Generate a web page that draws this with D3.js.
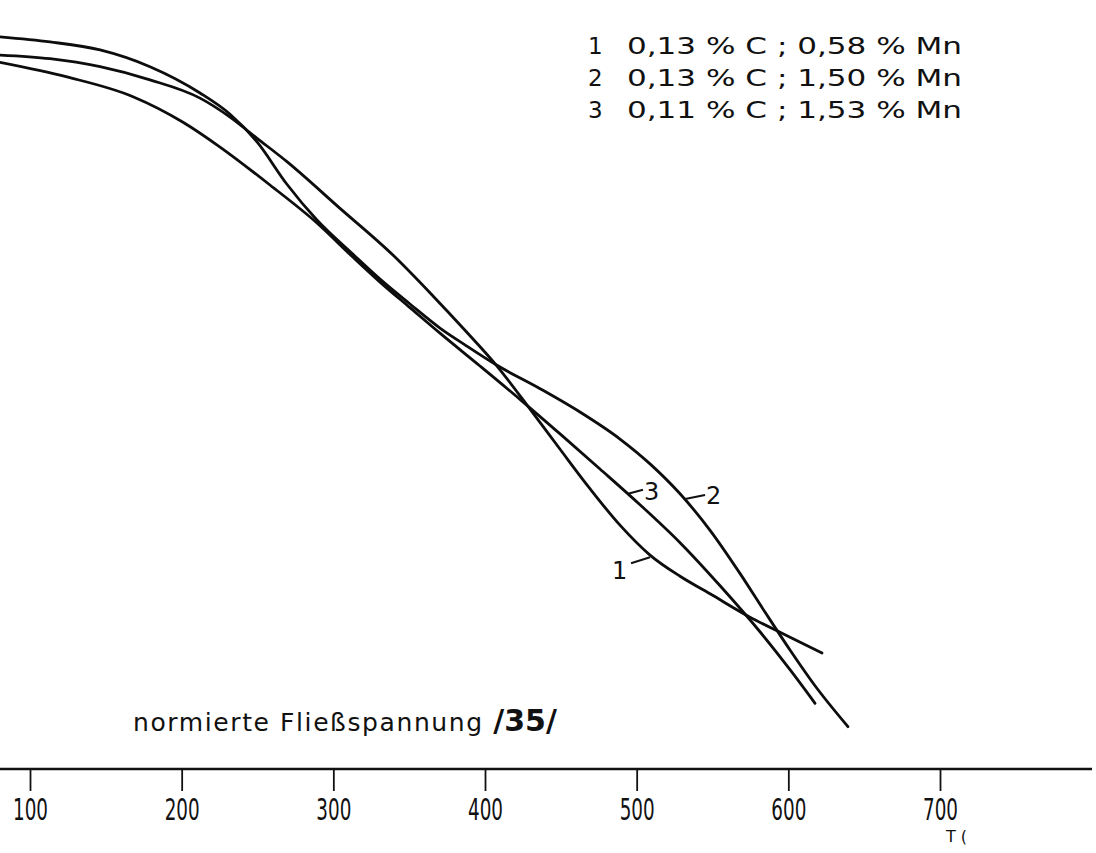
<!DOCTYPE html>
<html><head><meta charset="utf-8">
<script src="https://cdn.jsdelivr.net/npm/d3@7"></script>
<style>
html,body{margin:0;padding:0;background:#fff;}
svg{display:block;}
text{font-family:"DejaVu Sans",sans-serif;fill:#111;}
</style></head>
<body>
<svg id="chart" width="1096" height="853"></svg>
<script>
// ---- data (x: temperature, y: normalized flow stress) ----
const xTicks = [100, 200, 300, 400, 500, 600, 700];
const xTickLabels = ["100", "200", "300", "400", "500", "600", "700"];

const curve1X = [80.2,113.2,146.2,179.1,212.1,231.9,249.7,269.4,304.4,339.3,365.7,386.8,407.9,429.7,449.5,469.2,489.0,508.8,528.6,548.4,574.7,597.8,622.2];
const curve1Y = [0.978,0.973,0.962,0.944,0.919,0.893,0.864,0.832,0.768,0.704,0.648,0.601,0.552,0.493,0.438,0.384,0.334,0.293,0.264,0.240,0.208,0.184,0.159];

const curve2X = [80.2,113.2,146.2,179.1,212.1,231.9,249.7,269.4,289.2,313.0,330.8,350.5,370.3,386.8,407.9,436.3,462.6,489.0,508.8,528.6,548.4,568.1,584.6,601.1,617.6,639.3];
const curve2Y = [1.003,0.996,0.985,0.962,0.926,0.897,0.859,0.801,0.752,0.705,0.671,0.637,0.604,0.581,0.553,0.521,0.489,0.452,0.418,0.377,0.327,0.268,0.215,0.163,0.114,0.058];

const curve3X = [80.2,124.4,167.9,200.9,225.3,258.2,289.2,313.0,330.8,350.5,370.3,396.7,424.4,449.5,475.8,502.2,528.6,555.0,581.3,601.1,617.6];
const curve3Y = [0.968,0.948,0.921,0.886,0.852,0.800,0.748,0.701,0.667,0.632,0.597,0.552,0.504,0.459,0.411,0.362,0.310,0.251,0.188,0.136,0.090];

const seriesNames = ["1", "2", "3"];
const legendText = ["0,13 % C ;  0,58 % Mn", "0,13 % C ;  1,50 % Mn", "0,11 % C ;  1,53 % Mn"];
// curve label anchors (point on curve where the leader starts)
const labelAnchorX = [508.8, 531.9, 494.3];
const labelAnchorY = [0.290, 0.370, 0.377];
const axisTitle = "normierte Fließspannung";
const axisRef = "/35/";

// ---- drawing ----
const svg = d3.select("#chart");
svg.append("rect").attr("width",1096).attr("height",853).attr("fill","#fff");

const x = d3.scaleLinear().domain([100, 700]).range([30, 940]);
const y = d3.scaleLinear().domain([0, 1]).range([769, 39]);

// axis base line across the page
svg.append("line")
  .attr("x1", 0).attr("x2", 1092)
  .attr("y1", y(0)).attr("y2", y(0))
  .attr("stroke", "#111").attr("stroke-width", 2.6);

const axis = d3.axisBottom(x).tickValues(xTicks).tickSize(22).tickSizeOuter(0)
  .tickFormat((d,i) => xTickLabels[i]);
const gAxis = svg.append("g").attr("transform", `translate(0,${y(0)})`).call(axis);
gAxis.select(".domain").remove();
gAxis.selectAll(".tick line").attr("stroke", "#111").attr("stroke-width", 1.8);
gAxis.selectAll(".tick text")
  .attr("y", 51).attr("dy", 0)
  .attr("font-size", 31)
  .attr("font-family", "\"DejaVu Sans\", sans-serif")
  .attr("fill", "#111")
  .attr("textLength", 35).attr("lengthAdjust", "spacingAndGlyphs");

// curves
const line = d3.line().x(d => x(d[0])).y(d => y(d[1])).curve(d3.curveMonotoneX);
const curves = [d3.zip(curve1X, curve1Y), d3.zip(curve2X, curve2Y), d3.zip(curve3X, curve3Y)];
svg.append("g").selectAll("path").data(curves).join("path")
  .attr("d", line).attr("fill", "none")
  .attr("stroke", "#0d0d0d").attr("stroke-width", 2.8)
  .attr("stroke-linecap", "round").attr("stroke-linejoin", "round");

// curve labels with leader dashes
const labelDefs = [
  {dx1: -19, dy1: 6, tx: -38, ty: 22},   // 1: label left-below
  {dx1: 20, dy1: -4, tx: 21, ty: 5},     // 2
  {dx1: 15, dy1: -4, tx: 16, ty: 6}      // 3
];
labelDefs.forEach((L, i) => {
  const ax = x(labelAnchorX[i]), ay = y(labelAnchorY[i]);
  svg.append("line").attr("x1", ax).attr("y1", ay).attr("x2", ax + L.dx1).attr("y2", ay + L.dy1)
    .attr("stroke", "#111").attr("stroke-width", 2);
  svg.append("text").attr("x", ax + L.tx).attr("y", ay + L.ty)
    .attr("font-size", 24).text(seriesNames[i]);
});

// legend
const leg = svg.append("g");
seriesNames.forEach((n, i) => {
  leg.append("text").attr("x", 588).attr("y", 54 + i * 32).attr("font-size", 23).text(n);
  leg.append("text").attr("x", 627).attr("y", 54 + i * 32).attr("font-size", 23)
    .attr("textLength", 335).attr("lengthAdjust", "spacingAndGlyphs").text(legendText[i]);
});

// axis caption
const cap = svg.append("text").attr("x", 133).attr("y", 731).attr("font-size", 25);
cap.append("tspan").text(axisTitle + " ").attr("letter-spacing", 1.6);
cap.append("tspan").attr("font-size", 30).attr("font-weight", "bold").text(axisRef);

// faint unit mark at bottom right
svg.append("text").attr("x", 946).attr("y", 842).attr("font-size", 16).attr("fill", "#aaa").text("T (");
</script>
</body></html>
